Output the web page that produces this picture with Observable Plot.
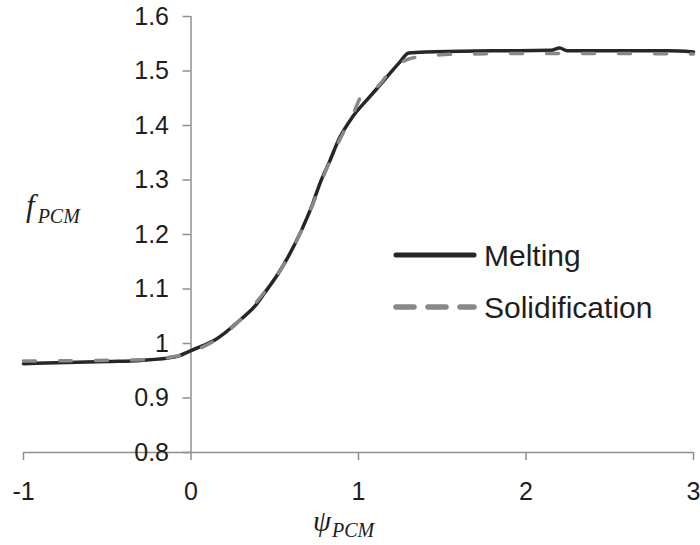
<!DOCTYPE html>
<html>
<head>
<meta charset="utf-8">
<script src="https://cdn.jsdelivr.net/npm/d3@7"></script>
<script src="https://cdn.jsdelivr.net/npm/@observablehq/plot@0.6"></script>
<style>
  html, body { margin: 0; padding: 0; background: #fff; }
  #chart svg { display: block; }
</style>
</head>
<body>
<div id="chart"></div>
<script>
// ---- data ----
const meltingX = [-1, -0.5, -0.3, -0.1, 0, 0.07, 0.14, 0.30, 0.38, 0.44, 0.52, 0.58, 0.66, 0.72, 0.77, 0.83, 0.885, 0.965, 1.065, 1.145, 1.24, 1.30, 1.4, 1.8, 2.15, 2.2, 2.25, 2.85, 3.0];
const meltingY = [0.963, 0.967, 0.969, 0.975, 0.987, 0.996, 1.006, 1.045, 1.068, 1.093, 1.128, 1.159, 1.208, 1.251, 1.294, 1.336, 1.376, 1.416, 1.452, 1.480, 1.514, 1.533, 1.535, 1.537, 1.538, 1.542, 1.537, 1.537, 1.535];
const solidX = [-1, -0.3, -0.1, 0, 0.14, 0.30, 0.44, 0.58, 0.72, 0.83, 0.965, 1.035, 1.1, 1.2, 1.3, 1.4, 1.6, 2.0, 2.5, 3.0];
const solidY = [0.968, 0.970, 0.976, 0.985, 1.005, 1.045, 1.095, 1.158, 1.250, 1.336, 1.420, 1.462, 1.468, 1.503, 1.522, 1.527, 1.531, 1.532, 1.532, 1.531];
const seriesNames = ["Melting", "Solidification"];
const xTicks = [-1, 0, 1, 2, 3];
const xTickLabels = ["-1", "0", "1", "2", "3"];
const yTicks = [0.8, 0.9, 1.0, 1.1, 1.2, 1.3, 1.4, 1.5, 1.6];
const yTickLabels = ["0.8", "0.9", "1", "1.1", "1.2", "1.3", "1.4", "1.5", "1.6"];

const melting = meltingX.map((x, i) => ({x, y: meltingY[i]}));
const solid = solidX.map((x, i) => ({x, y: solidY[i]}));

const W = 700, H = 545;
const mL = 23, mR = 7, mT = 16, mB = 93;
const axisGrey = "#8f8f8f";
const textCol = "#1e1e1e";
const FONT = "'Liberation Sans', Arial, sans-serif";

const xScale = Plot.scale({x: {domain: [-1, 3], range: [mL, W - mR]}});
const yAxisShift = xScale.apply(0) - mL;

const plot = Plot.plot({
  width: W, height: H,
  marginLeft: mL, marginRight: mR, marginTop: mT, marginBottom: mB,
  style: {fontFamily: FONT, background: "#fff", overflow: "visible"},
  x: {domain: [-1, 3]},
  y: {domain: [0.8, 1.6]},
  marks: [
    Plot.ruleY([0.8], {stroke: axisGrey, strokeWidth: 1.5}),
    Plot.ruleX([0], {y1: 0.8, y2: 1.6, stroke: axisGrey, strokeWidth: 1.5}),
    Plot.axisX({
      ticks: xTicks, tickFormat: (d) => xTickLabels[xTicks.indexOf(d)],
      tickSize: 8, tickPadding: 22, fontSize: 25, label: null,
      stroke: axisGrey, strokeWidth: 1.5, fill: textCol
    }),
    Plot.axisY({
      anchor: "left", dx: yAxisShift,
      ticks: yTicks, tickFormat: (d) => yTickLabels[yTicks.findIndex(t => Math.abs(t - d) < 1e-9)],
      tickSize: 8, tickPadding: 14, fontSize: 25, label: null,
      stroke: axisGrey, strokeWidth: 1.5, fill: textCol
    }),
    Plot.line(melting, {x: "x", y: "y", stroke: "#262626", strokeWidth: 3.5, curve: "monotone-x"}),
    Plot.line(solid, {x: "x", y: "y", stroke: "#888888", strokeWidth: 3.5, strokeDasharray: "12,24", curve: "monotone-x"})
  ]
});

document.getElementById("chart").appendChild(plot);

// ---- legend and axis titles ----
const svg = d3.select(plot);
const leg = svg.append("g").attr("text-anchor", "start");
const legItems = [
  {name: seriesNames[0], stroke: "#262626", dash: null, y: 255, w: 5},
  {name: seriesNames[1], stroke: "#888888", dash: "18,14", y: 307, w: 5.5}
];
legItems.forEach(it => {
  leg.append("line")
    .attr("x1", 396).attr("x2", 474).attr("y1", it.y).attr("y2", it.y)
    .attr("stroke", it.stroke).attr("stroke-width", it.w)
    .attr("stroke-linecap", "round")
    .attr("stroke-dasharray", it.dash);
  leg.append("text")
    .attr("x", 484).attr("y", it.y).attr("dy", "0.36em")
    .attr("text-anchor", "start")
    .attr("font-family", FONT).attr("font-size", 30)
    .attr("fill", textCol).text(it.name);
});

const serif = "'Liberation Serif', 'Times New Roman', serif";
const fl = svg.append("text").attr("x", 26).attr("y", 216).attr("text-anchor", "start")
  .attr("font-family", serif).attr("font-style", "italic").attr("fill", textCol);
fl.append("tspan").attr("font-size", 31).text("f");
fl.append("tspan").attr("font-size", 20).attr("dx", 3).attr("dy", 7).text("PCM");

const pl = svg.append("text").attr("x", 313).attr("y", 531).attr("text-anchor", "start")
  .attr("font-family", serif).attr("font-style", "italic").attr("fill", textCol);
pl.append("tspan").attr("font-size", 29).text("ψ");
pl.append("tspan").attr("font-size", 20).attr("dx", 1).attr("dy", 6).text("PCM");
</script>
</body>
</html>
